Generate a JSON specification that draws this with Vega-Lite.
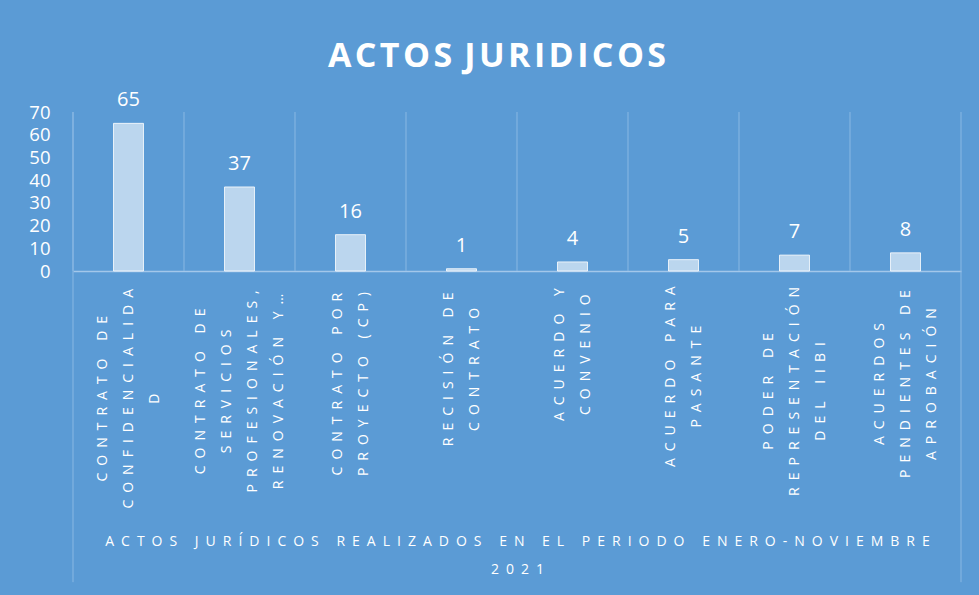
{
  "$schema": "https://vega.github.io/schema/vega-lite/v6.json",
  "width": 888,
  "height": 159,
  "autosize": {"type": "none"},
  "padding": {"left": 73, "top": 112, "right": 18, "bottom": 324},
  "background": "#5B9BD5",
  "config": {"view": {"stroke": null}},
  "title": {
    "text": "A\u200aC\u200aT\u200aO\u200aS \u200aJ\u200aU\u200aR\u200aI\u200aD\u200aI\u200aC\u200aO\u200aS",
    "font": "Open Sans",
    "fontSize": 34,
    "fontWeight": "bold",
    "color": "#ffffff",
    "anchor": "middle",
    "frame": "group",
    "dx": -20,
    "offset": -11,
    "baseline": "alphabetic"
  },
  "data": {
    "values": [
      {"cat": "CONTRATO DE|CONFIDENCIALIDA|D", "value": 65},
      {"cat": "CONTRATO DE|SERVICIOS|PROFESIONALES,|RENOVACIÓN Y…", "value": 37},
      {"cat": "CONTRATO POR|PROYECTO (CP)", "value": 16},
      {"cat": "RECISIÓN DE|CONTRATO", "value": 1},
      {"cat": "ACUERDO Y|CONVENIO", "value": 4},
      {"cat": "ACUERDO PARA|PASANTE", "value": 5},
      {"cat": "PODER DE|REPRESENTACIÓN|DEL IIBI", "value": 7},
      {"cat": "ACUERDOS|PENDIENTES DE|APROBACIÓN", "value": 8}
    ]
  },
  "encoding": {
    "x": {
      "field": "cat",
      "type": "nominal",
      "sort": null,
      "scale": {"paddingInner": 0, "paddingOuter": 0},
      "axis": {
        "labelAngle": -90,
        "labelAlign": "center",
        "labelBaseline": "middle",
        "labelFont": "Open Sans",
        "labelFontSize": 14,
        "labelColor": "#ffffff",
        "labelLineHeight": 26,
        "labelPadding": {"condition": {"test": "datum.value == null", "value": 17}, "expr": "17 + 7.35*max(length(split(datum.value,'|')[0]), length(split(datum.value,'|')[1] || ''), length(split(datum.value,'|')[2] || ''), length(split(datum.value,'|')[3] || ''))"},
        "labelOffset": {"condition": {"test": "datum.value == null", "value": 0}, "expr": "-13*(length(split(datum.value,'|'))-1)"},
        "labelLimit": 1000,
        "labelOverlap": false,
        "labelExpr": "split(replace(datum.label, regexp('([^|])', 'g'), '$1\u2002'), '|')",
        "ticks": false,
        "grid": false,
        "domainColor": "#a3c7ea",
        "domainWidth": 1.5,
        "title": [
          "A\u2002C\u2002T\u2002O\u2002S\u2002 \u2002J\u2002U\u2002R\u2002Í\u2002D\u2002I\u2002C\u2002O\u2002S\u2002 \u2002R\u2002E\u2002A\u2002L\u2002I\u2002Z\u2002A\u2002D\u2002O\u2002S\u2002 \u2002E\u2002N\u2002 \u2002E\u2002L\u2002 \u2002P\u2002E\u2002R\u2002I\u2002O\u2002D\u2002O\u2002 \u2002E\u2002N\u2002E\u2002R\u2002O\u2002-\u2002N\u2002O\u2002V\u2002I\u2002E\u2002M\u2002B\u2002R\u2002E",
          "2\u20020\u20022\u20021"
        ],
        "titleFont": "Open Sans",
        "titleFontSize": 14,
        "titleFontWeight": "normal",
        "titleColor": "#ffffff",
        "titleLineHeight": 28,
        "titlePadding": 63
      }
    },
    "y": {
      "field": "value",
      "type": "quantitative",
      "scale": {"domain": [0, 70]},
      "axis": {
        "values": [0, 10, 20, 30, 40, 50, 60, 70],
        "tickCount": 8,
        "domain": false,
        "ticks": false,
        "grid": false,
        "labelOverlap": false,
        "labelFont": "Open Sans",
        "labelFontSize": 18.5,
        "labelColor": "#ffffff",
        "labelPadding": 23,
        "title": null
      }
    }
  },
  "layer": [
    {
      "mark": {"type": "rule", "color": "#8ab8e3", "strokeWidth": 1},
      "encoding": {
        "x": {"field": "cat", "type": "nominal", "sort": null, "bandPosition": 0},
        "y": {"datum": 70, "type": "quantitative"},
        "y2": {"datum": 0}
      }
    },
    {
      "mark": {"type": "bar", "fill": "#bbd6ee", "stroke": "#ffffff", "strokeWidth": 0.8, "width": {"band": 0.27}}
    },
    {
      "mark": {"type": "text", "font": "Open Sans", "fontSize": 20, "color": "#ffffff", "baseline": "alphabetic", "dy": -17},
      "encoding": {
        "text": {"field": "value", "type": "quantitative"}
      }
    },
    {
      "transform": [{"filter": "datum.cat == 'CONTRATO DE|CONFIDENCIALIDA|D'"}],
      "mark": {"type": "rule", "color": "#8ab8e3", "strokeWidth": 1, "clip": false},
      "encoding": {
        "x": {"field": "cat", "type": "nominal", "sort": null, "bandPosition": 0},
        "y": {"datum": 70, "type": "quantitative"},
        "y2": {"datum": -137}
      }
    },
    {
      "transform": [{"filter": "datum.cat == 'ACUERDOS|PENDIENTES DE|APROBACIÓN'"}],
      "mark": {"type": "rule", "color": "#8ab8e3", "strokeWidth": 1, "clip": false},
      "encoding": {
        "x": {"field": "cat", "type": "nominal", "sort": null, "bandPosition": 1},
        "y": {"datum": 70, "type": "quantitative"},
        "y2": {"datum": -137}
      }
    }
  ]
}
